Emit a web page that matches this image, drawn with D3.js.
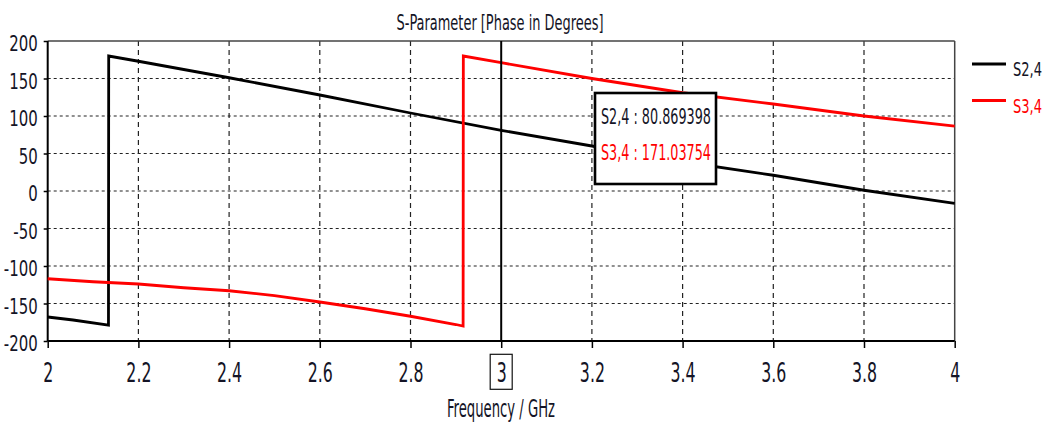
<!DOCTYPE html>
<html>
<head>
<meta charset="utf-8">
<script src="https://cdn.jsdelivr.net/npm/d3@7"></script>
<style>
  body { margin: 0; background: #fff; }
  text { font-family: "Liberation Sans Narrow", "DejaVu Sans Condensed", sans-serif; fill: #141426; }
</style>
</head>
<body>
<div id="chart"></div>
<script>
// phase (degrees), jumps kept as two points
const freqS24 = [2, 2.056, 2.134, 2.1345, 2.2, 2.4, 2.6, 2.8, 3.0, 3.2, 3.4, 3.6, 3.8, 4.0];
const phaseS24 = [-168, -172, -179, 180, 173, 151, 128, 104, 80.87, 60, 39, 21, 1, -16.4];
const freqS34 = [2, 2.1, 2.2, 2.3, 2.4, 2.5, 2.6, 2.7, 2.8, 2.9, 2.916, 2.9165, 3.0, 3.2, 3.4, 3.6, 3.8, 4.0];
const phaseS34 = [-117, -121, -124, -129, -133, -139.5, -148, -157, -167, -178, -180, 180, 171.04, 150, 131, 116, 100, 86.5];

const xTicks = [2, 2.2, 2.4, 2.6, 2.8, 3, 3.2, 3.4, 3.6, 3.8, 4];
const yTicks = [-200, -150, -100, -50, 0, 50, 100, 150, 200];

const markerFreq = 3;
const markerLabels = ["S2,4 : 80.869398", "S3,4 : 171.03754"];
const seriesNames = ["S2,4", "S3,4"];
const seriesColors = ["#000000", "#ff0000"];

const w = 1051, h = 424;
const svg = d3.select("#chart").append("svg").attr("width", w).attr("height", h);

const x = d3.scaleLinear().domain([2, 4]).range([47.7, 954.7]);
const y = d3.scaleLinear().domain([-200, 200]).range([341, 41]);

// squeeze text horizontally (the original font is very condensed)
function squeeze(sel, k) {
  sel.each(function () {
    const t = d3.select(this);
    const x0 = +t.attr("x") || 0;
    t.attr("x", x0 / k).attr("transform", `scale(${k},1)`);
  });
}

// grid
svg.append("g").selectAll("line")
  .data(yTicks.slice(1, -1))
  .enter().append("line")
  .attr("x1", x(2)).attr("x2", x(4))
  .attr("y1", d => y(d)).attr("y2", d => y(d))
  .attr("stroke", "#222").attr("stroke-width", 1.2)
  .attr("stroke-dasharray", "3,3");

svg.append("g").selectAll("line")
  .data(xTicks.filter(d => d !== 2 && d !== 4 && d !== markerFreq))
  .enter().append("line")
  .attr("x1", d => x(d)).attr("x2", d => x(d))
  .attr("y1", y(200)).attr("y2", y(-200))
  .attr("stroke", "#222").attr("stroke-width", 1.2)
  .attr("stroke-dasharray", "5,4");

// frame top / right
svg.append("line").attr("x1", x(2)).attr("x2", x(4)).attr("y1", y(200)).attr("y2", y(200))
  .attr("stroke", "#444").attr("stroke-width", 1.5);
svg.append("line").attr("x1", x(4)).attr("x2", x(4)).attr("y1", y(200)).attr("y2", y(-200))
  .attr("stroke", "#444").attr("stroke-width", 1.5);

// axes
const xAxis = svg.append("g")
  .attr("transform", `translate(0,${y(-200)})`)
  .call(d3.axisBottom(x).tickValues(xTicks).tickSize(7).tickSizeOuter(0).tickFormat(d => String(d)));
xAxis.select(".domain").remove();
xAxis.selectAll(".tick line").attr("stroke", "#000").attr("stroke-width", 1.5);
xAxis.selectAll(".tick text")
  .attr("y", 41.3).attr("dy", null)
  .style("font-size", "27px")
  .call(squeeze, 0.65);

// box round the marker tick label
xAxis.append("rect")
  .attr("x", x(markerFreq) - 11).attr("y", 354.3 - y(-200))
  .attr("width", 22).attr("height", 35)
  .attr("fill", "none").attr("stroke", "#111").attr("stroke-width", 1.2);

const yAxis = svg.append("g")
  .attr("transform", `translate(${x(2)},0)`)
  .call(d3.axisLeft(y).tickValues(yTicks).tickSize(4).tickSizeOuter(0).tickFormat(d => String(d)));
yAxis.select(".domain").remove();
yAxis.selectAll(".tick line").attr("stroke", "#000").attr("stroke-width", 1.5);
yAxis.selectAll(".tick text")
  .attr("x", -10).attr("y", 9.7).attr("dy", null)
  .style("font-size", "20.5px")
  .call(squeeze, 0.81);

svg.append("line").attr("x1", x(2)).attr("x2", x(2)).attr("y1", y(200)).attr("y2", y(-200))
  .attr("stroke", "#000").attr("stroke-width", 2);
svg.append("line").attr("x1", x(2)).attr("x2", x(4)).attr("y1", y(-200)).attr("y2", y(-200))
  .attr("stroke", "#000").attr("stroke-width", 2);

// series
const line = d3.line().x(d => x(d[0])).y(d => y(d[1]));
const series = [d3.zip(freqS24, phaseS24), d3.zip(freqS34, phaseS34)];
svg.append("g").selectAll("path")
  .data(series)
  .enter().append("path")
  .attr("d", line)
  .attr("fill", "none")
  .attr("stroke", (d, i) => seriesColors[i])
  .attr("stroke-width", 2.8)
  .attr("stroke-linejoin", "miter");

// marker
svg.append("line")
  .attr("x1", x(markerFreq)).attr("x2", x(markerFreq))
  .attr("y1", y(200)).attr("y2", y(-200))
  .attr("stroke", "#000").attr("stroke-width", 2);

// marker readout box
svg.append("rect")
  .attr("x", 595).attr("y", 93)
  .attr("width", 121).attr("height", 91)
  .attr("fill", "#fff").attr("stroke", "#000").attr("stroke-width", 2.6);
svg.append("g").selectAll("text")
  .data(markerLabels)
  .enter().append("text")
  .attr("x", 601)
  .attr("y", (d, i) => 124 + i * 36)
  .attr("textLength", 110).attr("lengthAdjust", "spacingAndGlyphs")
  .style("font-size", "22px")
  .style("fill", (d, i) => i === 0 ? "#141426" : "#ff0000")
  .text(d => d);

// legend
const legend = svg.append("g").selectAll("g")
  .data(seriesNames)
  .enter().append("g")
  .attr("transform", (d, i) => `translate(972,${64 + i * 36.5})`);
legend.append("line")
  .attr("x1", 0).attr("x2", 34)
  .attr("stroke", (d, i) => seriesColors[i]).attr("stroke-width", 3);
legend.append("text")
  .attr("x", 41).attr("y", 12)
  .attr("textLength", 29).attr("lengthAdjust", "spacingAndGlyphs")
  .style("font-size", "19px")
  .style("fill", (d, i) => i === 0 ? "#141426" : "#ff0000")
  .text(d => d);

// titles
svg.append("text")
  .attr("x", 500).attr("y", 30)
  .attr("text-anchor", "middle")
  .attr("textLength", 207).attr("lengthAdjust", "spacingAndGlyphs")
  .style("font-size", "21px")
  .text("S-Parameter [Phase in Degrees]");

svg.append("text")
  .attr("x", 501).attr("y", 416.5)
  .attr("text-anchor", "middle")
  .attr("textLength", 108).attr("lengthAdjust", "spacingAndGlyphs")
  .style("font-size", "24px")
  .text("Frequency / GHz");
</script>
</body>
</html>
